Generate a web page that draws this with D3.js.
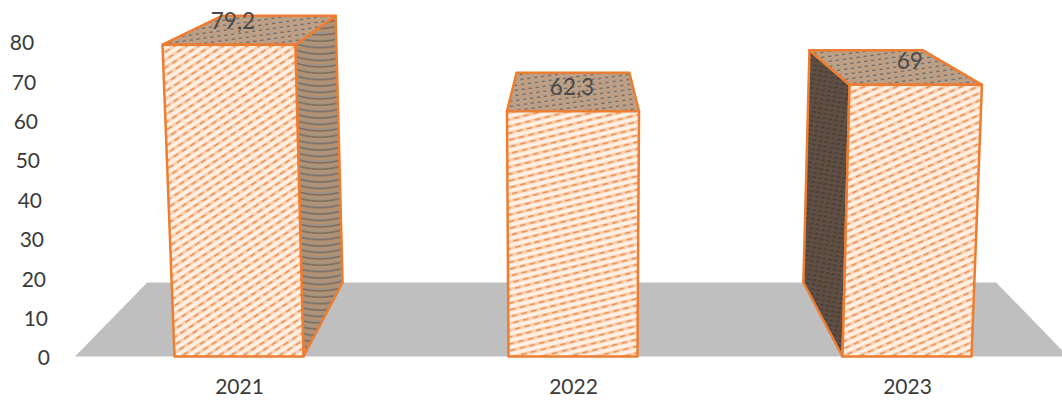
<!DOCTYPE html>
<html>
<head>
<meta charset="utf-8">
<script src="https://cdn.jsdelivr.net/npm/d3@7"></script>
<style>
html,body{margin:0;padding:0;background:#fff;overflow:hidden}
svg{display:block}
text{font-family:Lato,"Open Sans",sans-serif}
</style>
</head>
<body>
<svg id="chart" width="1062" height="400"></svg>
<script>
const categories = ["2021", "2022", "2023"];
const values = [79.2, 62.3, 69];
const valueLabels = ["79,2", "62,3", "69"];
const hatchAngles = [-33, -14, -24];

const W = 1062, H = 400;
const svg = d3.select("#chart");

const y = d3.scaleLinear().domain([0, 80]).range([356.5, 41.5]);
const x = d3.scalePoint().domain(categories).range([239, 907]);

const cx = 573, vanishY = -154, backK = 0.855, spread = 0.00038;
const halfBar = 64.5;

function project(px, v, depth) {
  const k = 1 - (1 - backK) * depth;
  const sx = cx + (px - cx) * (1 + spread * v);
  const sy = y(v);
  return [cx + (sx - cx) * k, vanishY + (sy - vanishY) * k];
}
const poly = d3.line();

/* ---------- patterns ---------- */
const defs = svg.append("defs");
const blur = defs.append("filter").attr("id", "soft")
  .attr("x", "-5%").attr("y", "-5%").attr("width", "110%").attr("height", "110%");
blur.append("feGaussianBlur").attr("stdDeviation", 0.6);

hatchAngles.forEach((a, i) => {
  const w = 10, h = 6.6;
  const p = defs.append("pattern").attr("id", "front" + i)
    .attr("patternUnits", "userSpaceOnUse")
    .attr("width", w).attr("height", h)
    .attr("patternTransform", `rotate(${a})`);
  p.append("rect").attr("width", w).attr("height", h).attr("fill", "#FFF1E6");
  p.append("rect").attr("width", w).attr("height", 3.2).attr("fill", "#FBCFAD");
  p.append("rect").attr("y", 0.9).attr("width", 5.5).attr("height", 1.5).attr("fill", "#E88E50");
});

/* curved banding on the lit side of the first bar */
const sideA = defs.append("pattern").attr("id", "side0")
  .attr("patternUnits", "userSpaceOnUse").attr("width", 48).attr("height", 6.4)
  .attr("patternTransform", "translate(296,0)");
sideA.append("rect").attr("width", 48).attr("height", 6.4).attr("fill", "#A39383");
[-6.4, 0, 6.4].forEach(o => {
  sideA.append("path").attr("d", `M0,${o - 1} Q24,${o + 7} 48,${o - 1}`)
    .attr("fill", "none").attr("stroke", "#7F6A58").attr("stroke-width", 1.5);
  sideA.append("path").attr("d", `M0,${o + 1.5} Q24,${o + 9.5} 48,${o + 1.5}`)
    .attr("fill", "none").attr("stroke", "#BE9267").attr("stroke-width", 1.3);
});

/* shaded side of the last bar */
const sideB = defs.append("pattern").attr("id", "side2")
  .attr("patternUnits", "userSpaceOnUse").attr("width", 6).attr("height", 4.6)
  .attr("patternTransform", "rotate(10)");
sideB.append("rect").attr("width", 6).attr("height", 4.6).attr("fill", "#5E5046");
sideB.append("rect").attr("width", 6).attr("height", 2).attr("fill", "#4C4036");
sideB.append("rect").attr("y", 0.4).attr("width", 3).attr("height", 1).attr("fill", "#6E5641");

const tp = defs.append("pattern").attr("id", "top")
  .attr("patternUnits", "userSpaceOnUse").attr("width", 7).attr("height", 5)
  .attr("patternTransform", "rotate(-8)");
tp.append("rect").attr("width", 7).attr("height", 5).attr("fill", "#B9A491");
tp.append("rect").attr("y", 0.5).attr("width", 3.5).attr("height", 1.5).attr("fill", "#7F6C5C");
tp.append("rect").attr("x", 3.5).attr("y", 3).attr("width", 3).attr("height", 1.4).attr("fill", "#D2925F");

/* ---------- floor ---------- */
const floorLeft = 75, floorRight = 1068;
svg.append("path")
  .attr("d", poly([
    project(floorLeft, 0, 0), project(floorLeft, 0, 1),
    project(floorRight, 0, 1), project(floorRight, 0, 0)
  ]) + "Z")
  .attr("fill", "#BFBFBF");

/* ---------- bars ---------- */
const bars = svg.selectAll("g.bar")
  .data(categories.map((c, i) => ({ c, v: values[i], i })))
  .join("g").attr("class", "bar").attr("filter", "url(#soft)");

bars.each(function (d) {
  const g = d3.select(this);
  const l = x(d.c) - halfBar, r = x(d.c) + halfBar;
  const face = (pts, fill) => g.append("path")
    .attr("d", poly(pts) + "Z").attr("fill", fill)
    .attr("stroke", "#ED7D31").attr("stroke-width", 2.5)
    .attr("stroke-linejoin", "round");

  if (project(r, d.v, 1)[0] > project(r, d.v, 0)[0]) {
    face([project(r, d.v, 0), project(r, d.v, 1), project(r, 0, 1), project(r, 0, 0)],
         `url(#side${d.i})`);
  }
  if (project(l, d.v, 1)[0] < project(l, d.v, 0)[0]) {
    face([project(l, d.v, 0), project(l, d.v, 1), project(l, 0, 1), project(l, 0, 0)],
         `url(#side${d.i})`);
  }
  face([project(l, d.v, 0), project(l, d.v, 1), project(r, d.v, 1), project(r, d.v, 0)], "url(#top)");
  face([project(l, 0, 0), project(l, d.v, 0), project(r, d.v, 0), project(r, 0, 0)],
       `url(#front${d.i})`);
});

/* ---------- data labels ---------- */
svg.selectAll("text.value")
  .data(categories.map((c, i) => ({ c, v: values[i], t: valueLabels[i] })))
  .join("text").attr("class", "value")
  .attr("x", d => project(x(d.c), d.v, 0.1)[0] - 1)
  .attr("y", d => y(d.v) - 24)
  .attr("dy", "0.35em")
  .attr("text-anchor", "middle")
  .attr("font-size", 22.5)
  .attr("fill", "#4A4A4A")
  .text(d => d.t);

/* ---------- axes ---------- */
const axisEdge = 50;
svg.selectAll("text.ytick")
  .data(y.ticks(8))
  .join("text").attr("class", "ytick")
  .attr("x", d => project(axisEdge, d, 0)[0])
  .attr("y", d => y(d) + 1.5)
  .attr("dy", "0.35em")
  .attr("text-anchor", "end")
  .attr("font-size", 21)
  .attr("fill", "#3A3A3A")
  .text(d => d);

const xAxis = svg.append("g")
  .attr("transform", "translate(0,379)")
  .call(d3.axisBottom(x).tickSize(0).tickPadding(0));
xAxis.select(".domain").remove();
xAxis.selectAll("text")
  .attr("font-size", 21)
  .attr("font-family", "Lato")
  .attr("fill", "#3A3A3A");
</script>
</body>
</html>
